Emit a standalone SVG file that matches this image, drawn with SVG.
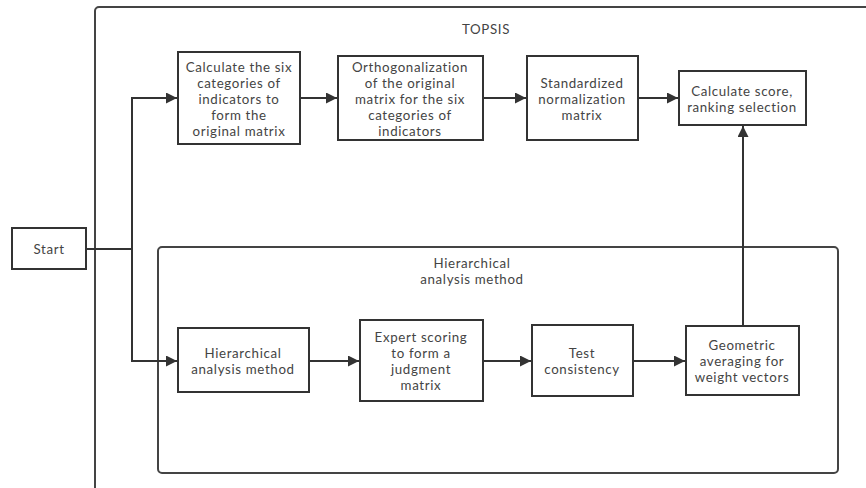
<svg xmlns="http://www.w3.org/2000/svg" width="866" height="488" viewBox="0 0 866 488">
<defs>
<style>
.box{fill:#fff;stroke:#333;stroke-width:2}
.frame{fill:none;stroke:#444;stroke-width:2}
.t{font-family:Lato,"Open Sans","Liberation Sans",sans-serif;font-size:13.3px;fill:#444;text-anchor:middle;letter-spacing:0.65px}
.c{fill:none;stroke:#333;stroke-width:2}
</style>
<marker id="ah" viewBox="0 0 10 10" refX="10" refY="5" markerWidth="13" markerHeight="11" markerUnits="userSpaceOnUse" orient="auto">
<path d="M0,0 L10,5 L0,10 z" fill="#333"/>
</marker>
</defs>
<rect width="866" height="488" fill="#fff"/>
<g id="topsis-frame">
<rect class="frame" x="95" y="7" width="800" height="500" rx="4"/>
<text class="t" x="486" y="34">TOPSIS</text>
</g>
<g id="ahp-frame">
<rect class="frame" x="158" y="247" width="680" height="226" rx="4"/>
<text class="t" x="472" y="268">Hierarchical</text>
<text class="t" x="472" y="284">analysis method</text>
</g>
<g id="connectors">
<path class="c" d="M86,249 H132"/>
<path class="c" d="M132,361 V98 H177" marker-end="url(#ah)"/>
<path class="c" d="M132,249 V361 H177" marker-end="url(#ah)"/>
<path class="c" d="M300,98 H337" marker-end="url(#ah)"/>
<path class="c" d="M483,98 H526" marker-end="url(#ah)"/>
<path class="c" d="M638,98 H678" marker-end="url(#ah)"/>
<path class="c" d="M309,361 H359" marker-end="url(#ah)"/>
<path class="c" d="M483,361 H531" marker-end="url(#ah)"/>
<path class="c" d="M633,361 H685" marker-end="url(#ah)"/>
<path class="c" d="M743,326 V126" marker-end="url(#ah)"/>
</g>
<g id="start">
<rect class="box" x="12" y="228" width="74" height="41"/>
<text class="t" x="49" y="254">Start</text>
</g>
<g id="calc-six">
<rect class="box" x="178" y="52" width="122" height="92"/>
<text class="t" x="239" y="72">Calculate the six</text>
<text class="t" x="239" y="88">categories of</text>
<text class="t" x="239" y="104">indicators to</text>
<text class="t" x="239" y="120">form the</text>
<text class="t" x="239" y="136">original matrix</text>
</g>
<g id="orthogonalization">
<rect class="box" x="338" y="56" width="145" height="84"/>
<text class="t" x="410" y="72">Orthogonalization</text>
<text class="t" x="410" y="88">of the original</text>
<text class="t" x="410" y="104">matrix for the six</text>
<text class="t" x="410" y="120">categories of</text>
<text class="t" x="410" y="136">indicators</text>
</g>
<g id="standardized">
<rect class="box" x="527" y="56" width="111" height="84"/>
<text class="t" x="582" y="88">Standardized</text>
<text class="t" x="582" y="104">normalization</text>
<text class="t" x="582" y="120">matrix</text>
</g>
<g id="calc-score">
<rect class="box" x="679" y="71" width="127" height="54"/>
<text class="t" x="742" y="96">Calculate score,</text>
<text class="t" x="742" y="112">ranking selection</text>
</g>
<g id="ahp">
<rect class="box" x="178" y="328" width="131" height="64"/>
<text class="t" x="243" y="358">Hierarchical</text>
<text class="t" x="243" y="374">analysis method</text>
</g>
<g id="expert">
<rect class="box" x="360" y="320" width="123" height="81"/>
<text class="t" x="421" y="342">Expert scoring</text>
<text class="t" x="421" y="358">to form a</text>
<text class="t" x="421" y="374">judgment</text>
<text class="t" x="421" y="390">matrix</text>
</g>
<g id="test">
<rect class="box" x="532" y="325" width="101" height="71"/>
<text class="t" x="582" y="358">Test</text>
<text class="t" x="582" y="374">consistency</text>
</g>
<g id="geometric">
<rect class="box" x="686" y="326" width="113" height="69"/>
<text class="t" x="742" y="350">Geometric</text>
<text class="t" x="742" y="366">averaging for</text>
<text class="t" x="742" y="382">weight vectors</text>
</g>
</svg>
